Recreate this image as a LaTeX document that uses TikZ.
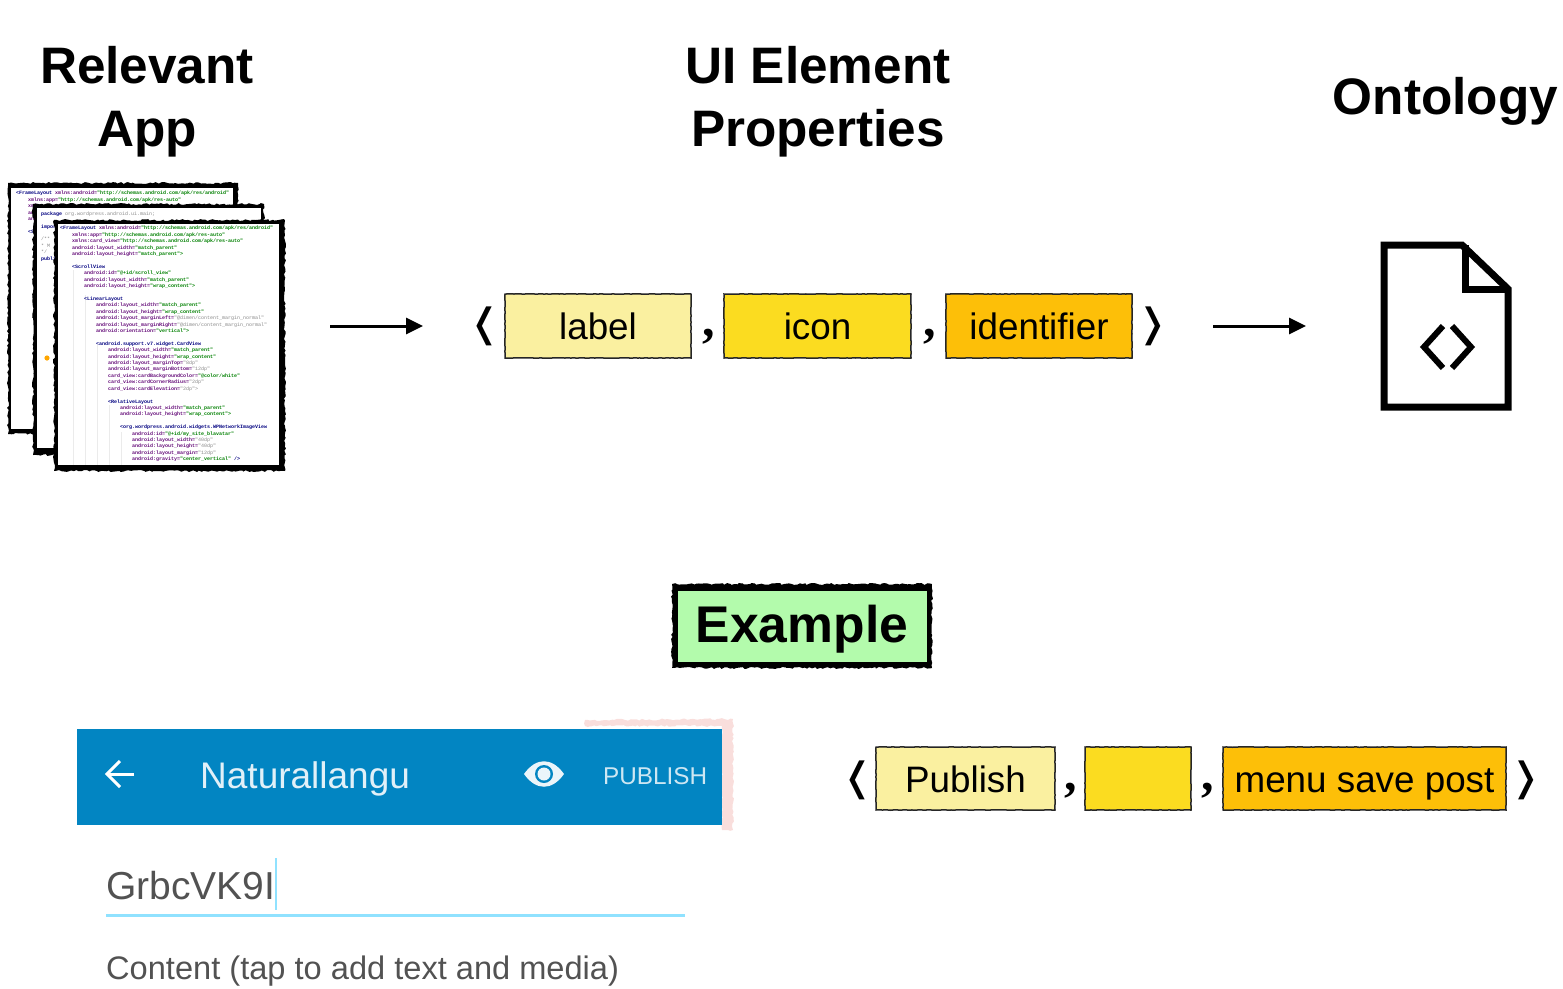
\documentclass[tikz,border=0pt]{standalone}
\usepackage{fontspec}
\setmainfont{Liberation Sans}
\setmonofont{Liberation Mono}
\newfontfamily\serifc{Liberation Serif}
\newfontfamily\dejavuf{DejaVu Sans}
\usetikzlibrary{arrows.meta,decorations.pathmorphing}
\definecolor{cpale}{HTML}{FAF0A0}
\definecolor{cyel}{HTML}{FBDC20}
\definecolor{corg}{HTML}{FDBF08}
\definecolor{cgreen}{HTML}{B3FBAC}
\definecolor{cbar}{HTML}{0285C2}
\definecolor{cpink}{HTML}{F9DEDC}
\definecolor{cline}{HTML}{90E2FF}
\definecolor{cnavy}{HTML}{000080}
\definecolor{cpurp}{HTML}{660E7A}
\definecolor{cgrn}{HTML}{008000}
\definecolor{cgrey}{HTML}{8A8A8A}
\newcommand\fsz[2]{\fontsize{#1}{#2}\selectfont}
\newcommand\tg[1]{\textcolor{cnavy}{\bfseries #1}}
\newcommand\at[1]{\textcolor{cpurp}{\bfseries #1}}
\newcommand\va[1]{\textcolor{cgrn}{\bfseries #1}}
\newcommand\gy[1]{\textcolor{cgrey}{#1}}
\newcommand\ind[1]{\hspace*{\dimexpr#1\dimexpr12pt\relax\relax}}
\newcommand\attr[3]{\ind{#1}\at{#2}\va{#3}}
\begin{document}
\begin{tikzpicture}[x=1pt,y=-1pt,
  rough/.style={decorate,decoration={random steps,segment length=2.5pt,amplitude=1pt}},
  fine/.style={decorate,decoration={random steps,segment length=3pt,amplitude=.25pt}},
  heading/.style={font=\bfseries\fsz{51.3}{63},align=center,inner sep=0pt},
  field/.style={draw=black!85,line width=1.5pt,fine,inner sep=0pt,text height=33.5pt,text depth=6pt,font=\fsz{36.8}{40}},
  sep/.style={font=\serifc\bfseries\fsz{50}{50},inner sep=0pt,anchor=base},
  angle/.style={font=\dejavuf\fsz{39}{39},inner sep=0pt},
  code/.style={font=\ttfamily\fsz{5}{6.41},align=left,inner sep=0pt,anchor=north west},
  flow/.style={line width=3pt,-{Triangle[length=17pt,width=16pt]},shorten >=0pt},
  sheet/.style={fill=white,inner sep=0pt,anchor=north west},
  ui/.style={inner sep=0pt,anchor=base west}]
\useasboundingbox (0,0) rectangle (1563,988);
\pgfmathsetseed{11}

% headings
\node[heading] (hApp) at (147,101.5) {Relevant\\App};
\node[heading] (hUI) at (818,101.5) {UI Element\\Properties};
\node[heading] (hOnt) at (1445.5,101.5) {Ontology};

% back sheet 1
\fill[black,rough] (8,183) rectangle (238,434);
\node[sheet,minimum width=222pt,minimum height=241pt] (docA) at (11,188) {};
\begin{scope}
\clip (11,188) rectangle (233,429);
\node[code] (codeA) at (16,191) {\tg{<FrameLayout} \at{xmlns:android=}\va{"http://schemas.android.com/apk/res/android"}\\
\attr{1}{xmlns:app=}{"http://schemas.android.com/apk/res-auto"}\\
\ind{1}\at{xml}\\
\ind{1}\at{and}\\
\ind{1}\at{and}\\
\mbox{}\\
\ind{1}\tg{<S}};
\end{scope}

% back sheet 2
\fill[black,rough] (33,204) rectangle (264,455);
\node[sheet,minimum width=224pt,minimum height=240pt] (docB) at (37,208) {};
\begin{scope}
\clip (37,208) rectangle (261,448);
\node[code] (codeB) at (41,211.5) {\tg{package} \gy{org.wordpress.android.ui.main;}\\
\mbox{}\\
\tg{import}\\
\mbox{}\\
\gy{/**}\\
\gy{ * M}\\
\gy{ */}\\
\tg{public}};
\fill[orange!70!yellow] (47,358) circle (2.6pt);
\end{scope}

% front sheet
\fill[black,rough] (54,220) rectangle (285,471);
\node[sheet,minimum width=221pt,minimum height=241pt] (docC) at (58,224) {};
\foreach \gx/\gy/\gz in {73/270/465,85/295/465,97/345/465,109/405/465,121/432/465}
  \draw[black!8,line width=.5pt] (\gx,\gy) -- (\gx,\gz);
\begin{scope}
\clip (58,224) rectangle (279,465);
\node[code] (codeC) at (60,226.1) {\tg{<FrameLayout} \at{xmlns:android=}\va{"http://schemas.android.com/apk/res/android"}\\
\attr{1}{xmlns:app=}{"http://schemas.android.com/apk/res-auto"}\\
\attr{1}{xmlns:card\_view=}{"http://schemas.android.com/apk/res-auto"}\\
\attr{1}{android:layout\_width=}{"match\_parent"}\\
\attr{1}{android:layout\_height=}{"match\_parent">}\\
\mbox{}\\
\ind{1}\tg{<ScrollView}\\
\attr{2}{android:id=}{"@+id/scroll\_view"}\\
\attr{2}{android:layout\_width=}{"match\_parent"}\\
\attr{2}{android:layout\_height=}{"wrap\_content">}\\
\mbox{}\\
\ind{2}\tg{<LinearLayout}\\
\attr{3}{android:layout\_width=}{"match\_parent"}\\
\attr{3}{android:layout\_height=}{"wrap\_content"}\\
\ind{3}\at{android:layout\_marginLeft=}\gy{"@dimen/content\_margin\_normal"}\\
\ind{3}\at{android:layout\_marginRight=}\gy{"@dimen/content\_margin\_normal"}\\
\attr{3}{android:orientation=}{"vertical">}\\
\mbox{}\\
\ind{3}\tg{<android.support.v7.widget.CardView}\\
\attr{4}{android:layout\_width=}{"match\_parent"}\\
\attr{4}{android:layout\_height=}{"wrap\_content"}\\
\ind{4}\at{android:layout\_marginTop=}\gy{"8dp"}\\
\ind{4}\at{android:layout\_marginBottom=}\gy{"12dp"}\\
\attr{4}{card\_view:cardBackgroundColor=}{"@color/white"}\\
\ind{4}\at{card\_view:cardCornerRadius=}\gy{"2dp"}\\
\ind{4}\at{card\_view:cardElevation=}\gy{"2dp">}\\
\mbox{}\\
\ind{4}\tg{<RelativeLayout}\\
\attr{5}{android:layout\_width=}{"match\_parent"}\\
\attr{5}{android:layout\_height=}{"wrap\_content">}\\
\mbox{}\\
\ind{5}\tg{<org.wordpress.android.widgets.WPNetworkImageView}\\
\attr{6}{android:id=}{"@+id/my\_site\_blavatar"}\\
\ind{6}\at{android:layout\_width=}\gy{"40dp"}\\
\ind{6}\at{android:layout\_height=}\gy{"40dp"}\\
\ind{6}\at{android:layout\_margin=}\gy{"12dp"}\\
\attr{6}{android:gravity=}{"center\_vertical"} \tg{/>}};
\end{scope}

% property tuple
\node[angle] (la) at (485,326) {❬};
\node[field,fill=cpale,minimum width=186pt,minimum height=64pt] (label) at (598,326) {label};
\node[sep] (c1) at (708.5,336) {,};
\node[field,fill=cyel,minimum width=187pt,minimum height=64pt] (icon) at (817.5,326) {icon};
\node[sep] (c2) at (930,336) {,};
\node[field,fill=corg,minimum width=186pt,minimum height=64pt] (ident) at (1039,326) {identifier};
\node[angle] (ra) at (1153,326) {❭};

% arrows
\coordinate (a1s) at (330,326);
\coordinate (a1e) at (423,326);
\coordinate (a2s) at (1213,326);
\coordinate (a2e) at (1306,326);
\draw[flow] (a1s) -- (a1e);
\draw[flow] (a2s) -- (a2e);

% ontology file icon
\draw[line width=7pt,miter limit=10,line join=miter] (1384,245) -- (1462,245) -- (1508,289) -- (1508,407) -- (1384,407) -- cycle;
\draw[line width=7pt,line join=miter] (1465,245) -- (1465,289) -- (1508,289);
\draw[line width=6pt,line join=miter] (1443,326) -- (1424,347) -- (1443,368);
\draw[line width=6pt,line join=miter] (1452,326) -- (1471,347) -- (1452,368);

% example
\fill[black,rough] (672,584) rectangle (932,668);
\node[fill=cgreen,minimum width=249pt,minimum height=71pt,inner sep=0pt,text height=36pt,text depth=4pt,font=\bfseries\fsz{51.6}{60}] (example) at (802,626) {Example};

% app screenshot
\fill[cpink,rough] (585,720) -- (733,719) -- (733,830) -- (722,830) -- (722,726) -- (585,726) -- cycle;
\fill[cbar] (77,729) rectangle (722,825);
\draw[white,line width=3pt,line join=miter] (134,774) -- (108,774);
\draw[white,line width=3pt,line join=miter] (120,761) -- (107,774) -- (120,787);
\node[ui,text=white!88!cbar,font=\fsz{37}{39}] (title) at (200,788) {Naturallangu};
\fill[white!92!cbar] (524,774) .. controls (536,757) and (552,757) .. (564,774) .. controls (552,791) and (536,791) .. (524,774) -- cycle;
\fill[cbar] (544,774) circle (9pt);
\fill[white!92!cbar] (544,774) circle (6.5pt);
\node[ui,text=white!80!cbar,font=\fsz{24.3}{28}] (pub) at (603,784) {PUBLISH};
\node[ui,text=black!68,font=\fsz{39}{42}] (title2) at (106,899) {GrbcVK9I};
\draw[cline,line width=2.5pt] (276,858) -- (276,910);
\coordinate (ul1) at (106,915);
\coordinate (ul2) at (685,915);
\draw[cline,line width=3pt] (ul1) -- (ul2);
\node[ui,text=black!68,font=\fsz{32.6}{34}] (content) at (106,979) {Content (tap to add text and media)};

% example tuple
\node[angle] (lb) at (858,780) {❬};
\node[field,fill=cpale,minimum width=179pt,minimum height=63pt] (publish) at (965.5,778.5) {Publish};
\node[sep] (c3) at (1071,790) {,};
\node[field,fill=cyel,minimum width=106pt,minimum height=63pt] (empty) at (1138,778.5) {};
\node[sep] (c4) at (1208,790) {,};
\node[field,fill=corg,minimum width=283pt,minimum height=63pt] (menu) at (1364.5,778.5) {menu save post};
\node[angle] (rb) at (1526,780) {❭};
\end{tikzpicture}
\end{document}
